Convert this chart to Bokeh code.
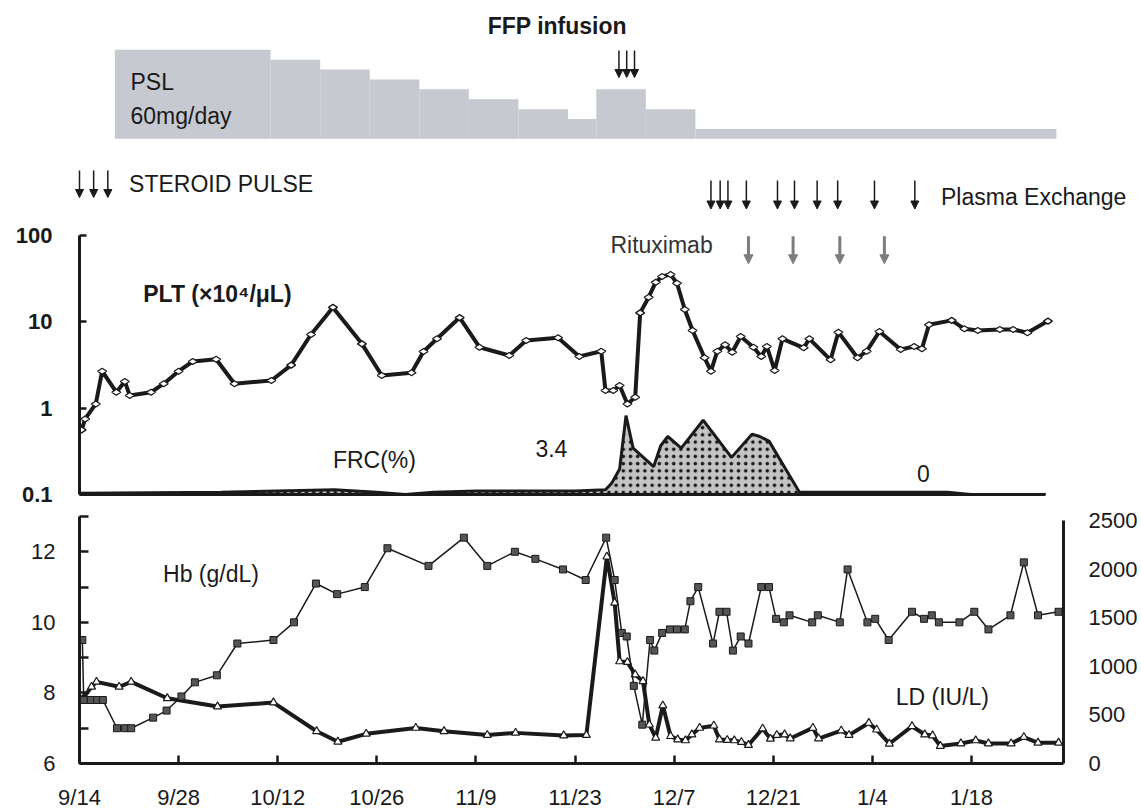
import numpy as np
from bokeh.plotting import figure
from bokeh.layouts import column
from bokeh.models import (Range1d, LinearAxis, FixedTicker, Arrow, NormalHead, Label,
                          ColumnDataSource, LinearScale, CustomJSTickFormatter)
from bokeh.embed import file_html
from bokeh.resources import INLINE

FONT = "Liberation Sans"
INK = "#1a1a1a"

# ---------------- time axis (days after 9/14) ----------------
tick_days = [0, 14, 28, 42, 56, 70, 84, 98, 112, 126]
tick_labels = ["9/14", "9/28", "10/12", "10/26", "11/9", "11/23", "12/7", "12/21", "1/4", "1/18"]

# ---------------- treatment schedule ----------------
psl_start = [5, 27, 34, 41, 48, 55, 62, 69, 73, 80, 87]
psl_end = [27, 34, 41, 48, 55, 62, 69, 73, 80, 87, 138]
psl_dose = [60, 55, 50, 45, 40, 35, 30, 25, 40, 30, 20]   # mg/day
PSL_FLOOR = 15
pulse_days = [0, 2, 4]
ffp_days = [76.2, 77.3, 78.4]
pe_days = [89.2, 90.5, 91.6, 94.2, 98.6, 101.0, 104.2, 107.1, 112.3, 118.0]
rtx_days = [94.5, 100.8, 107.4, 113.7]

# ---------------- platelets (x10^4/uL) ----------------
plt_day = [0.3, 0.8, 2.3, 3.2, 5.2, 6.4, 7.1, 10.1, 11.9, 14.0, 16.0, 19.3, 21.9,
           27.1, 29.9, 32.7, 35.8, 39.9, 42.7, 46.9, 48.6, 50.5, 53.7, 56.5, 60.7,
           63.1, 67.6, 70.6, 73.7, 74.3, 75.4, 76.3, 77.4, 78.5, 79.2, 80.4, 81.4,
           82.3, 83.5, 84.4, 85.5, 86.6, 88.3, 89.2, 90.1, 91.2, 92.2, 93.4, 95.2,
           96.3, 97.1, 98.2, 99.3, 102.3, 103.1, 106.1, 107.2, 109.9, 111.2, 113.0,
           116.0, 117.9, 119.0, 120.0, 123.2, 125.0, 126.9, 130.0, 131.9, 133.9, 136.8]
plt_val = [0.56, 0.75, 1.12, 2.68, 1.53, 2.04, 1.40, 1.53, 1.92, 2.68, 3.47, 3.69, 1.92,
           2.09, 3.15, 7.13, 14.7, 5.56, 2.39, 2.57, 4.53, 6.36, 11.2, 5.08, 4.07,
           6.08, 6.53, 3.97, 4.57, 1.60, 1.60, 1.83, 1.12, 1.34, 12.7, 19.3, 28.8,
           33.5, 35.3, 28.0, 13.9, 7.94, 3.83, 2.68, 4.57, 5.42, 4.45, 6.77, 5.08,
           3.97, 5.18, 2.73, 6.36, 5.0, 6.36, 3.63, 7.59, 3.83, 4.57, 7.73,
           4.78, 5.18, 4.87, 9.24, 10.4, 8.3, 7.94, 8.15, 8.15, 7.47, 10.2]

# ---------------- fragmented red cells (%) ----------------
frc_day = [0, 20, 36, 42, 46, 50, 56, 70, 74.3, 75.2, 76.3, 77.2, 78.2, 81.1, 82.1,
           83.1, 85.0, 88.1, 92.1, 95.0, 96.1, 97.4, 101.7, 122.6, 125.9, 136.5]
frc_val = [0.05, 0.1, 0.2, 0.1, 0.0, 0.1, 0.15, 0.15, 0.2, 0.5, 1.1, 3.4, 2.0, 1.2, 2.1,
           2.5, 2.0, 3.2, 1.6, 2.6, 2.5, 2.3, 0.1, 0.1, 0.0, 0.0]

# ---------------- hemoglobin (g/dL) ----------------
hb_day = [0.4, 0.6, 1.6, 2.5, 3.3, 5.3, 6.4, 7.3, 10.4, 12.3, 14.4, 16.3, 19.4, 22.3,
          27.4, 30.3, 33.4, 36.4, 40.3, 43.5, 49.3, 54.3, 57.6, 61.5, 64.4, 68.3, 71.5,
          74.4, 75.6, 76.6, 77.3, 78.3, 79.5, 80.6, 81.2, 82.3, 83.4, 84.4, 85.5, 86.3,
          87.4, 89.5, 90.4, 91.4, 92.3, 93.4, 94.5, 96.3, 97.4, 98.4, 99.5, 100.3,
          103.5, 104.3, 107.4, 108.5, 111.3, 112.4, 114.3, 117.6, 119.3, 120.4, 121.4,
          124.3, 126.4, 128.4, 131.5, 133.4, 135.4, 138.3]
hb_val = [9.5, 7.8, 7.8, 7.8, 7.8, 7.0, 7.0, 7.0, 7.3, 7.5, 7.9, 8.3, 8.5, 9.4,
          9.5, 10.0, 11.1, 10.8, 11.0, 12.1, 11.6, 12.4, 11.6, 12.0, 11.8, 11.5, 11.2,
          12.4, 11.2, 9.7, 9.6, 8.2, 7.1, 9.5, 9.2, 9.7, 9.8, 9.8, 9.8, 10.6,
          11.0, 9.4, 10.3, 10.3, 9.2, 9.6, 9.4, 11.0, 11.0, 10.1, 10.0, 10.2,
          10.0, 10.2, 10.0, 11.5, 10.0, 10.1, 9.5, 10.3, 10.1, 10.2, 10.0,
          10.0, 10.3, 9.8, 10.2, 11.7, 10.2, 10.3]

# ---------------- lactate dehydrogenase (IU/L) ----------------
ld_day = [0.4, 1.7, 2.4, 5.6, 7.3, 12.4, 19.5, 27.4, 33.5, 36.5, 40.5, 47.5, 51.5,
          57.6, 61.6, 68.4, 71.6, 74.5, 75.6, 76.3, 77.4, 78.5, 79.6, 80.5, 81.4,
          82.4, 83.5, 84.5, 85.6, 86.5, 87.6, 89.6, 90.4, 91.5, 92.5, 93.5, 94.5,
          96.5, 97.6, 98.5, 99.6, 100.4, 103.6, 104.4, 107.6, 108.7, 111.5, 112.6,
          114.4, 117.6, 119.4, 120.5, 121.6, 124.5, 126.6, 128.4, 131.6, 133.4,
          135.4, 138.3]
ld_val = [660, 789, 840, 789, 840, 671, 586, 627, 332, 224, 305, 366, 332,
          292, 315, 288, 292, 2127, 1653, 1050, 1043, 914, 846, 399, 264,
          596, 281, 247, 237, 298, 366, 389, 247, 241, 237, 220, 190,
          359, 254, 292, 298, 257, 366, 257, 338, 292, 417, 348,
          203, 383, 298, 288, 180, 206, 237, 206, 206, 271,
          213, 213]

# ---------------- page geometry ----------------
W = 1141
LEFT, RIGHT = 79, 78
DAY_MAX = 139.0
PXD = (W - LEFT - RIGHT) / DAY_MAX          # pixels per day inside the plot frames
H_TOP, H_PLT, H_LAB = 222, 285, 305
FRC_TOP = 259 / 23.2
LD_TOP = 2500 * 250 / 246


def style_axis(ax, size="22px", bold=False):
    ax.axis_line_width = 3
    ax.axis_line_color = INK
    ax.major_tick_line_width = 2.5
    ax.major_tick_line_color = INK
    ax.minor_tick_line_color = None
    ax.major_label_text_font = FONT
    ax.major_label_text_font_size = size
    ax.major_label_text_color = INK
    if bold:
        ax.major_label_text_font_style = "bold"


def down_arrows(p, days, y0, y1, color, width, head):
    n = len(days)
    src = ColumnDataSource(dict(x=days, y0=[y0] * n, y1=[y1] * n))
    p.add_layout(Arrow(x_start="x", y_start="y0", x_end="x", y_end="y1", source=src,
                       line_color=color, line_width=width,
                       end=NormalHead(size=head, fill_color=color, line_color=color,
                                      line_width=1)))


def label(p, x, y, txt, size="23px", bold=False, align="left", color=INK):
    p.add_layout(Label(x=x, y=y, text=txt, text_font=FONT, text_font_size=size,
                       text_font_style="bold" if bold else "normal", text_align=align,
                       text_baseline="middle", text_color=color))


def new_fig(height, top, bottom, **kw):
    p = figure(width=W, height=height, x_range=Range1d(0, DAY_MAX),
               output_backend="svg", toolbar_location=None,
               min_border_left=LEFT, min_border_right=RIGHT,
               min_border_top=top, min_border_bottom=bottom,
               outline_line_color=None, **kw)
    p.xgrid.visible = False
    p.ygrid.visible = False
    return p


# ================= treatment strip (full-width frame, same day scale) =================
pa = figure(width=W, height=H_TOP,
            x_range=Range1d(-LEFT / PXD, DAY_MAX + RIGHT / PXD),
            y_range=Range1d(H_TOP, 0), output_backend="svg", toolbar_location=None,
            x_axis_location=None, y_axis_location=None, min_border=0,
            outline_line_color=None)
pa.frame_align = False
pa.xgrid.visible = False
pa.ygrid.visible = False
pa.extra_y_ranges = {"psl": Range1d(-27.3, 84.9)}

pa.quad(left=psl_start, right=psl_end, bottom=PSL_FLOOR, top=psl_dose,
        y_range_name="psl", fill_color="#c7c9d0", line_color=None)

label(pa, 7.2, 81.7, "PSL")
label(pa, 7.2, 115, "60mg/day")
label(pa, 67.5, 25, "FFP infusion", bold=True, align="center")
label(pa, 7.0, 183.3, "STEROID PULSE")
label(pa, 121.7, 196.7, "Plasma Exchange")

down_arrows(pa, ffp_days, 50, 77, INK, 1.5, 8)
down_arrows(pa, pulse_days, 170, 197, INK, 1.5, 8)
down_arrows(pa, pe_days, 180, 208.5, INK, 1.5, 8)

# ================= platelets / FRC =================
pb = new_fig(H_PLT, 13, 13, y_range=Range1d(0.1, 100), y_axis_type="log",
             x_axis_location=None)
pb.extra_y_ranges = {"frc": Range1d(0, FRC_TOP)}
pb.extra_y_scales = {"frc": LinearScale()}

ya = pb.yaxis[0]
style_axis(ya, size="22px", bold=True)
ya.ticker = FixedTicker(ticks=[0.1, 1, 10, 100])
ya.formatter = CustomJSTickFormatter(code="return tick < 1 ? tick.toFixed(1) : tick.toFixed(0);")
ya.major_tick_in = 7
ya.major_tick_out = 0
ya.major_label_standoff = 27

xb = LinearAxis(ticker=FixedTicker(ticks=[]), bounds=(0, 136.5))
style_axis(xb)
xb.major_tick_line_color = None
xb.major_label_text_font_size = "0px"
xb.major_label_standoff = 0
pb.add_layout(xb, "below")

pb.varea(x=frc_day, y1=[0] * len(frc_day), y2=frc_val, y_range_name="frc",
         fill_color="#c4c4c4", hatch_pattern="dot", hatch_color=INK,
         hatch_scale=7.2, hatch_weight=1.5)
pb.line(frc_day, frc_val, y_range_name="frc", line_color=INK, line_width=3)

pb.line(plt_day, plt_val, line_color=INK, line_width=4)
pb.scatter(plt_day, plt_val, marker="diamond", size=9, angle=np.pi / 2,
           fill_color="white", line_color=INK, line_width=1.3)

label(pb, 9.0, 21.1, "PLT (×10⁴/μL)", bold=True)
label(pb, 75.0, 76.6, "Rituximab", color="#333333")
label(pb, 35.8, 0.248, "FRC(%)")
label(pb, 64.4, 0.339, "3.4")
label(pb, 119.2, 0.174, "0", align="center")

down_arrows(pb, rtx_days, 98, 47, "#7d7d7d", 3, 9)

# ================= Hb / LD =================
pc = new_fig(H_LAB, 9, 46, y_range=Range1d(6, 13))
pc.extra_y_ranges = {"ld": Range1d(0, LD_TOP)}

yl = pc.yaxis[0]
style_axis(yl)
yl.ticker = FixedTicker(ticks=list(range(6, 14)))
yl.formatter = CustomJSTickFormatter(code="return (tick % 2 === 0 && tick < 13) ? String(tick) : '';")
yl.major_tick_in = 9
yl.major_tick_out = 0
yl.major_label_standoff = 24

xl = pc.xaxis[0]
style_axis(xl)
xl.ticker = FixedTicker(ticks=tick_days)
xl.major_label_overrides = dict(zip(tick_days, tick_labels))
xl.major_tick_in = 8
xl.major_tick_out = 0
xl.major_label_standoff = 21

yr = LinearAxis(y_range_name="ld", ticker=FixedTicker(ticks=[0, 500, 1000, 1500, 2000, 2500]),
                bounds=(0, 2500))
style_axis(yr)
yr.major_tick_in = 0
yr.major_tick_out = 0
yr.major_label_standoff = 25
pc.add_layout(yr, "right")

pc.line(ld_day, ld_val, y_range_name="ld", line_color=INK, line_width=4)
pc.scatter(ld_day, ld_val, y_range_name="ld", marker="triangle", size=8,
           fill_color="white", line_color=INK, line_width=1.2)

pc.line(hb_day, hb_val, line_color=INK, line_width=1.5)
pc.scatter(hb_day, hb_val, marker="square", size=7, fill_color="#555555",
           line_color=INK, line_width=1)

label(pc, 11.8, 11.38, "Hb (g/dL)")
label(pc, 115.3, 7.88, "LD (IU/L)")

layout = column(pa, pb, pc, spacing=0)
open("out.html", "w").write(file_html(layout, INLINE))
